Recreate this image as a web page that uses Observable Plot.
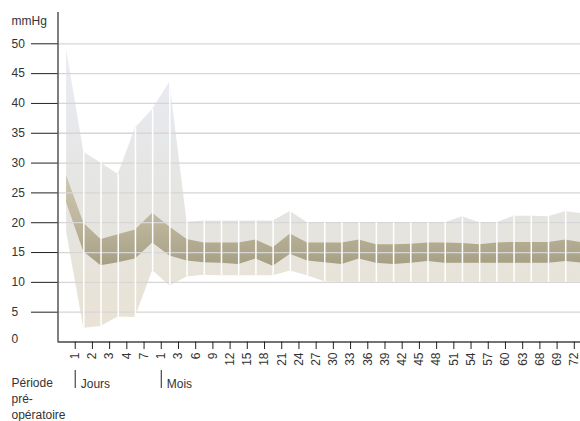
<!DOCTYPE html>
<html>
<head>
<meta charset="utf-8">
<script src="https://cdn.jsdelivr.net/npm/d3@7"></script>
<script src="https://cdn.jsdelivr.net/npm/@observablehq/plot@0.6"></script>
<style>
  body { margin: 0; background: #fff; }
</style>
</head>
<body>
<div id="chart"></div>
<script>
// Tick labels along the x axis (days 1..7, then months 1..72)
const tickLabels = ["1","2","3","4","7","1","3","6","9","12","15","18","21","24","27","30","33","36","39","42","45","48","51","54","57","60","63","68","69","72"];
// Group annotations under the axis (index of the tick where each group starts)
const groups = [{label: "Jours", tick: 0}, {label: "Mois", tick: 5}];
const periodLabel = "Période\npré-\nopératoire";
const unitLabel = "mmHg";
const yTicks = [5, 10, 15, 20, 25, 30, 35, 40, 45, 50];

// Band values per vertex (first vertex = pre-operative period)
const outerMax = [49.1, 31.8, 30.0, 28.1, 35.9, 39.0, 43.6, 20.1, 20.3, 20.3, 20.3, 20.3, 20.3, 21.9, 20.0, 20.0, 20.0, 20.0, 20.0, 20.0, 20.0, 20.0, 20.0, 21.0, 20.0, 20.0, 21.1, 21.1, 21.0, 21.9, 21.5];
const outerMin = [18.4, 2.3, 2.6, 4.2, 4.1, 12.0, 9.4, 10.9, 11.2, 11.1, 11.1, 11.1, 11.1, 11.9, 11.1, 10.1, 10.0, 10.0, 10.0, 10.0, 10.0, 10.0, 10.0, 10.0, 10.0, 10.0, 10.0, 10.0, 10.0, 10.0, 10.0];
const innerTop = [27.9, 19.9, 17.2, 18.0, 18.8, 21.6, 19.3, 17.2, 16.6, 16.6, 16.6, 17.1, 15.8, 18.1, 16.6, 16.6, 16.6, 17.1, 16.3, 16.3, 16.4, 16.6, 16.6, 16.5, 16.3, 16.6, 16.7, 16.7, 16.7, 17.1, 16.6];
const innerBottom = [23.3, 15.1, 12.8, 13.3, 13.9, 16.6, 14.4, 13.6, 13.3, 13.2, 13.0, 13.9, 12.7, 14.7, 13.6, 13.3, 13.0, 13.9, 13.2, 13.0, 13.2, 13.5, 13.2, 13.2, 13.2, 13.2, 13.2, 13.2, 13.2, 13.5, 13.2];

const data = outerMax.map((d, i) => ({v: i, max: d, min: outerMin[i], hi: innerTop[i], lo: innerBottom[i]}));
const tickPos = tickLabels.map((_, i) => i + 0.5);

const chart = Plot.plot({
  width: 580,
  height: 421,
  marginLeft: 57.5,
  marginRight: 0,
  marginTop: 12,
  marginBottom: 79.5,
  style: {fontFamily: "'Liberation Sans', Arial, sans-serif", fontSize: "12px", color: "#333", background: "#fff"},
  x: {type: "linear", domain: [-0.5, 29.86], label: null},
  y: {domain: [0, 55.25], label: null},
  marks: [
    Plot.areaY(data, {x: "v", y1: "min", y2: "max", fill: "url(#outerGrad)", clip: true}),
    Plot.areaY(data, {x: "v", y1: "lo", y2: "hi", fill: "url(#innerGrad)", clip: true}),
    Plot.ruleY(yTicks, {stroke: "#d6d6d6", strokeWidth: 1.3}),
    Plot.ruleX(data.filter(d => d.v > 0), {x: "v", y1: "min", y2: "max", stroke: "#fff", strokeWidth: 1.5, clip: true}),
    Plot.ruleX([-0.5], {stroke: "#555", strokeWidth: 1.5}),
    Plot.ruleY([0], {stroke: "#444", strokeWidth: 1.5}),
    Plot.axisY(yTicks, {tickSize: 26.5, tickPadding: 20, textAnchor: "start", stroke: "#222", fill: "#333", label: null}),
    Plot.axisY([0], {tickSize: 0, tickPadding: 46.5, textAnchor: "start", fill: "#333", dy: -3, label: null}),
    Plot.axisX(tickPos, {tickFormat: d => tickLabels[Math.round(d - 0.5)], tickRotate: -90, tickSize: 7.5, tickPadding: 3, stroke: "#222", fill: "#333", label: null}),
    Plot.text([unitLabel], {frameAnchor: "top-left", dx: -46.5, dy: 4, textAnchor: "start", fill: "#333"}),
    Plot.text([periodLabel], {frameAnchor: "bottom-left", dx: -46.5, dy: 33.8, lineAnchor: "top", textAnchor: "start", lineHeight: 1.333, fill: "#333"}),
    Plot.ruleX(groups, {x: d => d.tick + 0.5, insetTop: 358, insetBottom: -46.5, stroke: "#222"}),
    Plot.text(groups, {x: d => d.tick + 0.5, text: "label", frameAnchor: "bottom", textAnchor: "start", lineAnchor: "top", dx: 5.5, dy: 37, fill: "#333"})
  ]
});

// gradients (user space, tied to the y scale)
const ys = chart.scale("y");
const svg = d3.select(chart);
const defs = svg.insert("defs", ":first-child");
function grad(id, stops) {
  const y1 = ys.apply(50), y2 = ys.apply(0);
  const g = defs.append("linearGradient").attr("id", id)
    .attr("gradientUnits", "userSpaceOnUse")
    .attr("x1", 0).attr("x2", 0).attr("y1", y1).attr("y2", y2);
  for (const [v, c] of stops) {
    g.append("stop").attr("offset", (50 - v) / 50).attr("stop-color", c);
  }
}
grad("outerGrad", [[50, "#ebedf4"], [40, "#e8e9ee"], [30, "#e6e6e5"], [20, "#e5e4e0"], [8, "#e8e3d7"], [0, "#e8e3d6"]]);
grad("innerGrad", [[28, "#cec7b0"], [20, "#bdb69c"], [15, "#aea78c"], [12, "#a29b7f"]]);

document.getElementById("chart").appendChild(chart);
</script>
</body>
</html>
